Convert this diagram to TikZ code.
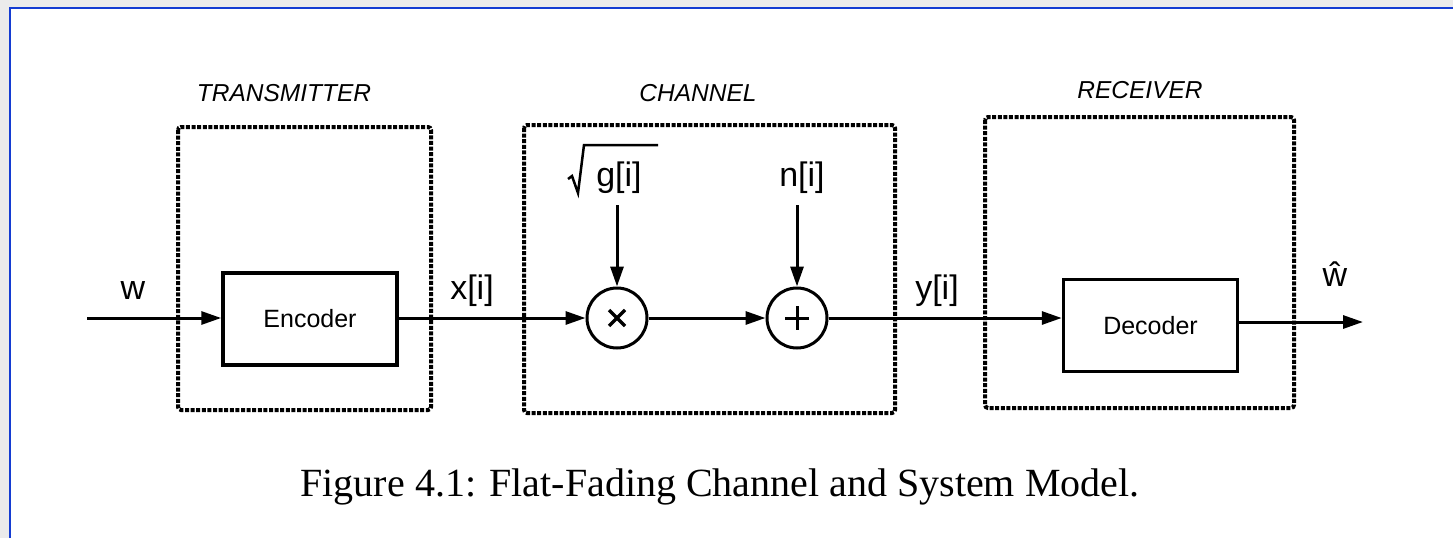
\documentclass[tikz,border=0pt]{standalone}
\usepackage{fontspec}
\setmainfont{Liberation Serif}
\newfontfamily\arial{Liberation Sans}
\usetikzlibrary{arrows.meta}
\definecolor{frameblue}{RGB}{20,60,210}
\definecolor{framegray}{RGB}{235,235,235}
\begin{document}
\begin{tikzpicture}[x=1pt,y=-1pt,
  conn/.style={line width=3pt},
  arr/.style={conn,-{Triangle[length=20pt,width=13pt]}},
  dotbox/.style={draw,line width=4pt,dash pattern=on 4pt off 1.6pt,rounded corners=3pt},
  block/.style={draw,line width=3.5pt,minimum width=174pt,minimum height=92pt,inner sep=0pt,font=\arial\fontsize{25}{30}\selectfont},
  opnode/.style={draw,circle,line width=3pt,minimum size=60pt,inner sep=0pt},
  lab/.style={font=\arial\fontsize{34}{40}\selectfont,inner sep=0pt},
  sec/.style={font=\arial\itshape\fontsize{24.5}{30}\selectfont,inner sep=0pt},
  captext/.style={font=\fontsize{40}{46}\selectfont,inner sep=0pt}]
\useasboundingbox (0,0) rectangle (1453,538);
\fill[white] (0,0) rectangle (1453,538);
\fill[framegray] (0,0) rectangle (1453,7);
\fill[framegray] (0,0) rectangle (9,538);
\draw[frameblue,line width=2pt] (10,538) -- (10,8) -- (1453,8);

% section boxes
\draw[dotbox] (178,127) rectangle (431,410);
\draw[dotbox] (524,125) rectangle (895,413);
\draw[dotbox] (985,117) rectangle (1294,408);
\node[sec] (ttx) at (284,93) {TRANSMITTER};
\node[sec] (tch) at (698,93) {CHANNEL};
\node[sec] (trx) at (1140,90) {RECEIVER};

% blocks
\node[block] (enc) at (310,319) {Encoder};
\node[block] (dec) at (1150.5,325.5) {Decoder};
\node[opnode] (mul) at (617,318) {};
\node[opnode] (add) at (797,318) {};
\draw[line width=3.5pt] ([shift={(-8,-8)}]mul.center) -- ([shift={(8,8)}]mul.center);
\draw[line width=3.5pt] ([shift={(-8,8)}]mul.center) -- ([shift={(8,-8)}]mul.center);
\draw[line width=3pt] ([shift={(-12,0)}]add.center) -- ([shift={(12,0)}]add.center);
\draw[line width=3pt] ([shift={(0,-12)}]add.center) -- ([shift={(0,12)}]add.center);

% labels
\node[lab] (lw) at (133,291) {w};
\node[lab] (lx) at (472,291) {x[i]};
\node[lab] (ly) at (937,291) {y[i]};
\node[lab] (lwh) at (1335,274) {\^{w}};
\node[lab] (lg) at (619,178) {g[i]};
\draw[line width=2.5pt,line join=miter] (568,179) -- (572,176) -- (578,193) -- (584,145) -- (658,145);
\node[lab] (ln) at (802,178) {n[i]};

% connectors
\coordinate (win) at (87,318);
\coordinate (out) at (1363,322);
\coordinate (gtop) at (617,205);
\coordinate (ntop) at (797,205);
\draw[arr] (win) -- (win -| enc.west);
\draw[arr] (enc.east |- mul) -- (mul.west);
\draw[arr] (mul.east) -- (add.west);
\draw[arr] (add.east) -- (add -| dec.west);
\draw[arr] (dec.east |- out) -- (out);
\draw[arr] (gtop) -- (mul.north);
\draw[arr] (ntop) -- (add.north);

% caption
\node[captext] (caption) at (720,487) {Figure 4.1: Flat-Fading Channel and System Model.};
\end{tikzpicture}
\end{document}
